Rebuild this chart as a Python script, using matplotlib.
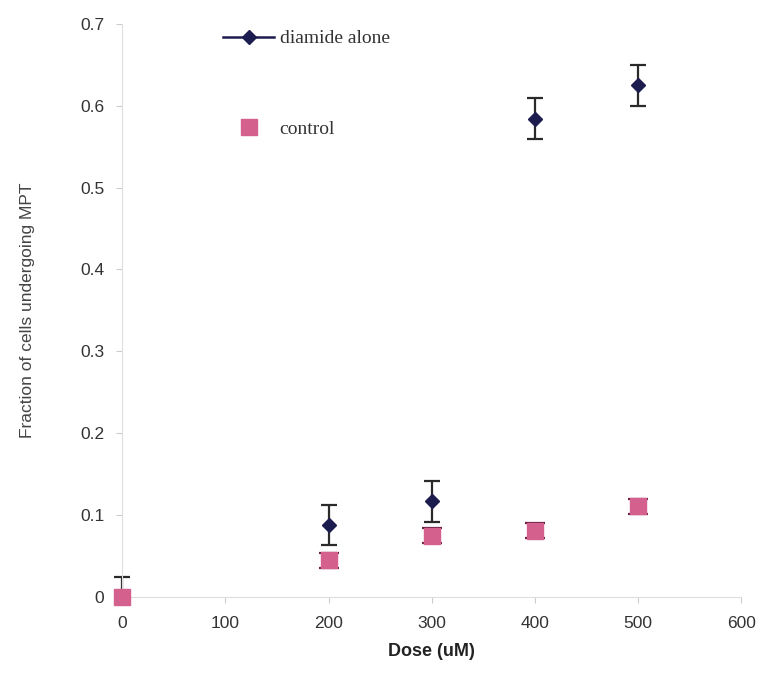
import matplotlib
matplotlib.use("Agg")
import matplotlib.pyplot as plt
from matplotlib.lines import Line2D

dose = [0, 200, 300, 400, 500]
diamide = [0.0, 0.088, 0.117, 0.584, 0.625]
diamide_err_low = [0.0, 0.025, 0.025, 0.025, 0.025]
diamide_err_high = [0.025, 0.025, 0.025, 0.025, 0.025]
control = [0.0, 0.045, 0.075, 0.081, 0.111]
control_err_low = [0.0, 0.009, 0.009, 0.009, 0.009]
control_err_high = [0.0, 0.009, 0.009, 0.009, 0.009]
xticks = [0, 100, 200, 300, 400, 500, 600]
yticks = [0, 0.1, 0.2, 0.3, 0.4, 0.5, 0.6, 0.7]
yticklabels = ["0", "0.1", "0.2", "0.3", "0.4", "0.5", "0.6", "0.7"]

navy = "#1c1c4e"
pink = "#d4608e"
err_col = "#2a2a2a"

fig = plt.figure(figsize=(7.64, 6.8), dpi=100)
ax = fig.add_axes([0.160, 0.122, 0.810, 0.843])

# diamide series (error bars + diamonds)
eb = ax.errorbar(dose, diamide, yerr=[diamide_err_low, diamide_err_high],
                 fmt="none", ecolor=err_col, elinewidth=1.6, capsize=5.5,
                 capthick=1.6, zorder=2)
for art in eb.lines[1] + eb.lines[2]:
    art.set_clip_on(False)
ax.plot(dose, diamide, linestyle="none", marker="D", markersize=7.5,
        color=navy, zorder=3, clip_on=False)
# control series
eb2 = ax.errorbar(dose[1:], control[1:],
                  yerr=[control_err_low[1:], control_err_high[1:]],
                  fmt="none", ecolor="#6a2040", elinewidth=1.2, capsize=7.5,
                  capthick=1.6, zorder=4)
ax.plot(dose, control, linestyle="none", marker="s", markersize=11.5,
        color=pink, zorder=5, clip_on=False)

ax.set_xlim(0, 600)
ax.set_ylim(0, 0.7)
ax.set_xticks(xticks)
ax.set_yticks(yticks)
ax.set_yticklabels(yticklabels)
ax.tick_params(axis="both", colors="#cccccc", labelcolor="#333333",
               labelsize=12.5, length=4, width=0.8)
ax.tick_params(axis="x", pad=10)
ax.tick_params(axis="y", pad=9)
for lab in ax.get_xticklabels() + ax.get_yticklabels():
    lab.set_family("Liberation Sans")
for s in ["top", "right"]:
    ax.spines[s].set_visible(False)
for s in ["left", "bottom"]:
    ax.spines[s].set_color("#dddddd")
    ax.spines[s].set_linewidth(0.8)

ax.set_xlabel("Dose (uM)", fontsize=13, fontweight="bold",
              family="Liberation Sans", color="#222222", labelpad=8)
ax.set_ylabel("Fraction of cells undergoing MPT", fontsize=12.5,
              family="Liberation Sans", color="#444444", labelpad=32)

# legend drawn as in the original
handles = [
    Line2D([0], [0], color=navy, lw=1.8, marker="D", markersize=7),
    Line2D([0], [0], color=pink, lw=0, marker="s", markersize=11),
]
leg = ax.legend(handles, ["diamide alone", "control"], loc="upper left",
                bbox_to_anchor=(0.135, 1.02), frameon=False,
                prop={"family": "Liberation Serif", "size": 14},
                handlelength=2.6, handletextpad=0.3, labelspacing=3.75)
for t in leg.get_texts():
    t.set_color("#333333")

fig.savefig("out.png", dpi=100, facecolor="white")
